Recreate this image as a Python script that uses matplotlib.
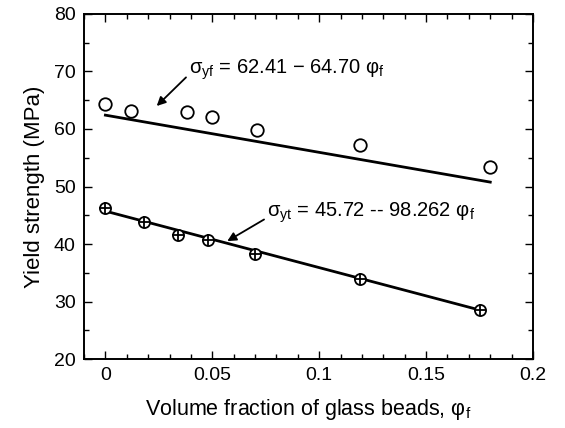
"""Yield strength vs glass bead volume fraction"""

import matplotlib
matplotlib.use("Agg")
import matplotlib.pyplot as plt
import numpy as np
from matplotlib.ticker import MultipleLocator

plt.rcParams['font.family'] = ['Liberation Sans', 'DejaVu Sans']
plt.rcParams['mathtext.fontset'] = 'custom'
plt.rcParams['mathtext.rm'] = 'Liberation Sans'
plt.rcParams['mathtext.it'] = 'Liberation Sans:italic'

# flexural yield strength data
phi_flex = [0.0, 0.012, 0.038, 0.050, 0.071, 0.119, 0.180]
sigma_flex = [64.3, 63.1, 63.0, 62.0, 59.9, 57.2, 53.4]

# tensile yield strength data
phi_tens = [0.0, 0.018, 0.034, 0.048, 0.070, 0.119, 0.175]
sigma_tens = [46.2, 43.8, 41.5, 40.7, 38.3, 33.9, 28.5]

# linear fits (intercept, slope)
fit_flex = (62.41, -64.70)
fit_tens = (45.72, -98.262)

x_ticks = [0, 0.05, 0.1, 0.15, 0.2]
x_ticklabels = ["0", "0.05", "0.1", "0.15", "0.2"]
y_ticks = [20, 30, 40, 50, 60, 70, 80]

fig = plt.figure(figsize=(5.65, 4.28), dpi=100)
ax = fig.add_axes([0.1487, 0.1612, 0.7947, 0.8061])

# fitted lines
for phi, fit in ((phi_flex, fit_flex), (phi_tens, fit_tens)):
    xs = np.array([min(phi), max(phi)])
    ax.plot(xs, fit[0] + fit[1] * xs, color='black', lw=2.0, zorder=2)

# data points
ax.plot(phi_flex, sigma_flex, linestyle='none', marker='o', ms=9,
        mfc='white', mec='black', mew=1.3, zorder=3)
ax.plot(phi_tens, sigma_tens, linestyle='none', marker='o', ms=8,
        mfc='white', mec='black', mew=1.3, zorder=3)
ax.plot(phi_tens, sigma_tens, linestyle='none', marker='+', ms=8,
        mec='black', mew=1.3, zorder=4)

# equation labels with arrows
arrow = dict(arrowstyle='-|>', color='black', lw=1.3, mutation_scale=13,
             shrinkA=0, shrinkB=0, relpos=(0, 0.3))
ax.annotate("$\\mathrm{σ_{yf}}$ = 62.41 − 64.70 $\\mathrm{φ_{f}}$",
            xy=(0.024, 64.0), xytext=(0.039, 70.3), fontsize=14.5,
            va='center', ha='left', arrowprops=arrow)
ax.annotate("$\\mathrm{σ_{yt}}$ = 45.72 -- 98.262 $\\mathrm{φ_{f}}$",
            xy=(0.057, 40.5), xytext=(0.0755, 45.4), fontsize=14.5,
            va='center', ha='left', arrowprops=arrow)

ax.set_xlim(-0.01, 0.2)
ax.set_ylim(20, 80)
ax.set_xticks(x_ticks)
ax.set_xticklabels(x_ticklabels)
ax.set_yticks(y_ticks)
ax.xaxis.set_minor_locator(MultipleLocator(0.01))
ax.yaxis.set_minor_locator(MultipleLocator(5))
ax.tick_params(which='both', direction='in', top=True, right=True,
               labelsize=14, width=1.0)
ax.tick_params(which='major', length=6, pad=6)
ax.tick_params(which='minor', length=3.5)
for s in ax.spines.values():
    s.set_linewidth(1.4)

ax.set_ylabel("Yield strength (MPa)", fontsize=16, labelpad=6)
ax.set_xlabel("Volume fraction of glass beads, $\\mathrm{φ_{f}}$",
              fontsize=15.5, labelpad=9)

fig.savefig("out.png", dpi=100)
plt.close(fig)
